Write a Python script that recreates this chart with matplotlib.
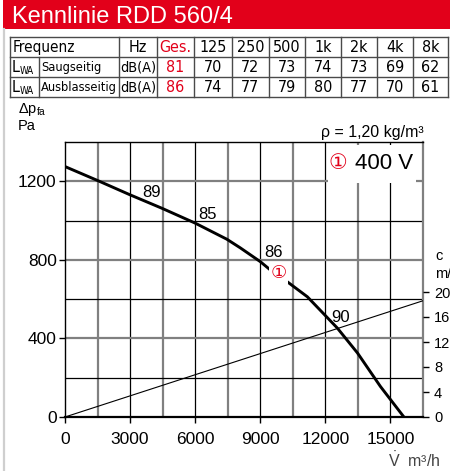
import os
import matplotlib
matplotlib.use("Agg")
import matplotlib.pyplot as plt
from matplotlib import font_manager
from matplotlib.font_manager import FontProperties
from matplotlib.patches import Rectangle
import numpy as np

# fan curve (volume flow m3/h, pressure Pa)
flow = [0, 1500, 3000, 4460, 6000, 7460, 8080, 9000, 9460, 10250, 11170, 12550, 13480, 14540, 15620]
pressure = [1275, 1204, 1131, 1063, 987, 905, 861, 791, 749, 688, 612, 453, 326, 155, 0]

# outlet velocity line (m3/h, m/s)
vel_flow = [0, 16500]
velocity = [0, 18.6]

# efficiency labels on the curve
eff_labels = ['89', '85', '86', '90']
eff_flow = [3970, 6550, 9600, 12690]
eff_pres = [1141, 1029, 836, 504]

# sound table
freq = ['125', '250', '500', '1k', '2k', '4k', '8k']
saug = [70, 72, 73, 74, 73, 69, 62]
ausb = [74, 77, 79, 80, 77, 70, 61]
saug_ges = 81
ausb_ges = 86

RED = '#e2001a'
plt.rcParams['font.family'] = ['Liberation Sans', 'DejaVu Sans', 'Noto Sans CJK JP']
plt.rcParams['mathtext.fontset'] = 'custom'
plt.rcParams['mathtext.rm'] = 'Liberation Sans'
plt.rcParams['mathtext.it'] = 'Liberation Sans:italic'

# narrow face for the table if there is one, the reference uses a condensed font
by_base = {os.path.basename(f.fname): f.fname for f in font_manager.fontManager.ttflist}
prefs = ['LiberationSansNarrow-Regular.ttf', 'NotoSans-Condensed.ttf', 'DejaVuSansCondensed.ttf',
         'NotoSans-SemiCondensed.ttf']
cond = next((by_base[p] for p in prefs if p in by_base), None)
names = {f.name for f in font_manager.fontManager.ttflist}
if cond:
    tfont = FontProperties(fname=cond)
elif 'Lato' in names:
    tfont = FontProperties(family='Lato')
else:
    tfont = FontProperties(family='Liberation Sans')

fig = plt.figure(figsize=(4.5, 4.71), dpi=100)
renderer = fig.canvas.get_renderer()


def fit(s, width, maxsize=11.5):
    probe = fig.text(0, 0, s, fontproperties=tfont, fontsize=10)
    w = probe.get_window_extent(renderer).width
    probe.remove()
    return min(maxsize, 10 * width / w)


lab_size = min(fit('Ausblasseitig', 76), fit('Saugseitig', 76))
db_size = fit('dB(A)', 36)

# header / table drawn in pixel space
bg = fig.add_axes([0, 0, 1, 1], zorder=0)
bg.set_xlim(0, 450)
bg.set_ylim(471, 0)
bg.axis('off')
bg.add_patch(Rectangle((3, 0), 447, 29, color=RED, lw=0))
bg.plot([3.5, 3.5], [29, 471], color='#cfcfcf', lw=1.6)
bg.text(12, 17, 'Kennlinie RDD 560/4', color='white', fontsize=17, va='center', ha='left')

tc = '#4a4a4a'
rows_y = [37, 57, 77, 97]
for y in rows_y:
    bg.plot([10, 448], [y, y], color=tc, lw=1)
edges = [157, 194, 232, 269, 305, 341, 377, 413, 448]
for x in [10, 119] + edges:
    bg.plot([x, x], [37, 97], color=tc, lw=1)
bg.plot([39, 39], [57, 97], color=tc, lw=1)
mids = [(edges[i] + edges[i + 1]) / 2 for i in range(len(edges) - 1)]


def cell(x, y, s, ha='center', color='black', size=11.5):
    bg.text(x, y, s, fontproperties=tfont, fontsize=size, va='center', ha=ha, color=color)


cell(13, 47.5, 'Frequenz', ha='left', size=max(lab_size, 11))
cell(138, 47.5, 'Hz')
cell(mids[0], 47.5, 'Ges.', color=RED, size=fit('Ges.', 34))
for i, f in enumerate(freq):
    cell(mids[i + 1], 47.5, f)
for r, (label, vals, ges) in enumerate([('Saugseitig', saug, saug_ges), ('Ausblasseitig', ausb, ausb_ges)]):
    yc = 67.5 + 20 * r
    cell(12, yc, 'L', ha='left')
    cell(20, yc + 3, 'WA', ha='left', size=7)
    cell(41, yc, label, ha='left', size=lab_size)
    cell(138, yc, 'dB(A)', size=db_size)
    cell(mids[0], yc, str(ges), color=RED)
    for i, v in enumerate(vals):
        cell(mids[i + 1], yc, str(v))

bg.text(18, 110, r'$\mathrm{\Delta p_{fa}}$', fontsize=10.5, va='center')
bg.text(18, 126, 'Pa', fontsize=10.5, va='center')

# main chart
ax = fig.add_axes([65 / 450, 1 - 417 / 471, 358 / 450, 275 / 471], zorder=1)
ax.set_facecolor('none')
ax.set_xlim(0, 16500)
ax.set_ylim(0, 1400)

for xv in np.arange(1500, 16500, 1500):
    major = xv % 3000 == 0
    ax.axvline(xv, color='black' if major else '#808080', lw=0.9 if major else 1.6, zorder=1)
for yv in np.arange(200, 1400, 200):
    major = yv % 400 == 0
    ax.axhline(yv, color='#808080' if major else 'black', lw=1.6 if major else 0.9, zorder=1)

for s in ['left', 'top']:
    ax.spines[s].set_color('black')
    ax.spines[s].set_linewidth(1)
ax.spines['bottom'].set_linewidth(1.6)
ax.spines['right'].set_color('#808080')
ax.spines['right'].set_linewidth(1.6)

ax.set_xticks(np.arange(0, 16000, 3000))
ax.set_yticks([0, 400, 800, 1200])
ax.tick_params(axis='x', length=4, width=1, pad=7, labelsize=12.5)
ax.tick_params(axis='y', length=4, width=1, pad=2, labelsize=12.5)

# white box with voltage label
ax.add_patch(Rectangle((12100, 1190), 4100, 196, facecolor='white', edgecolor='none', zorder=2))
ax.text(12560, 1290, '①', color=RED, fontsize=15, ha='center', va='center', zorder=3)
ax.text(13380, 1290, '400 V', fontsize=16, ha='left', va='center', zorder=3)
ax.text(16550, 1450, 'ρ = 1,20 kg/m³', fontsize=11.5, ha='right', va='center', clip_on=False)

ax.plot(flow, pressure, color='black', lw=2.1, zorder=4, solid_capstyle='butt')
for t, x, y in zip(eff_labels, eff_flow, eff_pres):
    ax.text(x, y, t, fontsize=12, ha='center', va='center', zorder=5)
ax.text(9830, 729, '①', color=RED, fontsize=13, ha='center', va='center', zorder=6,
        bbox=dict(facecolor='white', edgecolor='none', pad=1.0))

ax2 = ax.twinx()
ax2.set_ylim(0, 44)
ax2.plot(vel_flow, velocity, color='black', lw=0.8, zorder=4)
ax2.set_yticks([0, 4, 8, 12, 16, 20])
ax2.tick_params(axis='y', length=4, width=1, pad=4, labelsize=10.5)
for s in ax2.spines.values():
    s.set_visible(False)
ax2.text(1.035, 25.8, 'c', transform=ax2.get_yaxis_transform(), fontsize=10.5, va='center')
ax2.text(1.035, 22.9, 'm/s', transform=ax2.get_yaxis_transform(), fontsize=10.5, va='center')

bg.text(388, 460, r'$\dot{\mathrm{V}}$  m³/h', fontsize=11.5, color='#444444', va='center')

fig.savefig('out.png', dpi=100)
